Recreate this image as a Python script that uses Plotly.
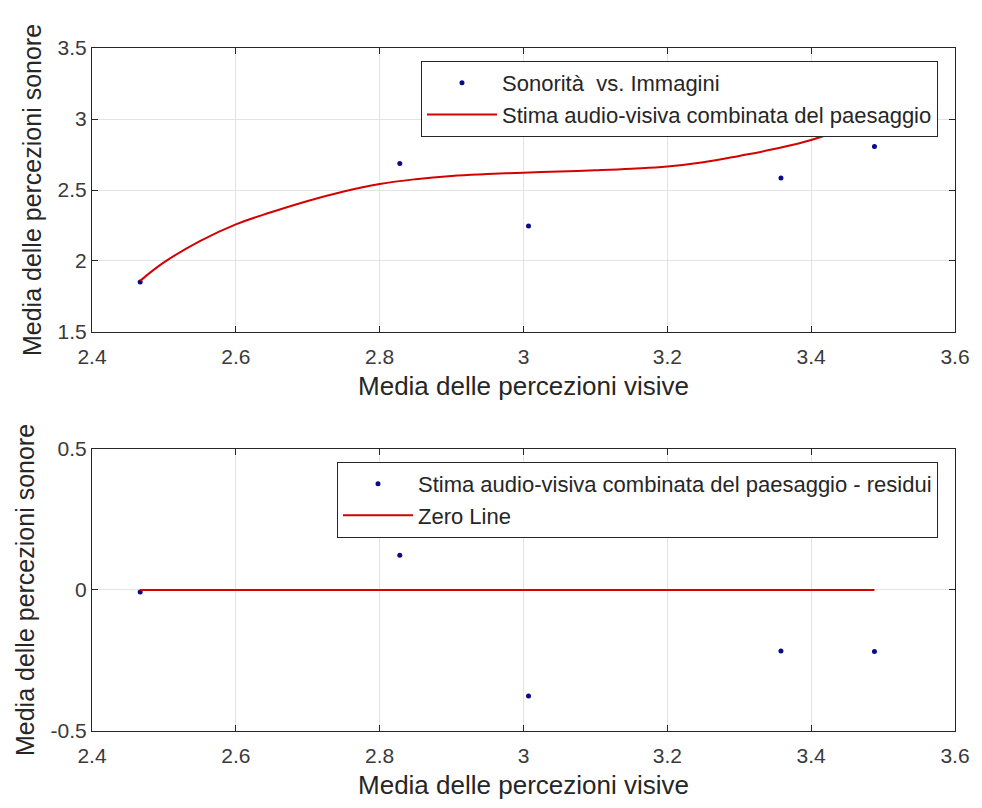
import plotly.graph_objects as go

# ---- data ----
visive = [2.467, 2.828, 3.007, 3.358, 3.488]          # Media delle percezioni visive
sonore = [1.852, 2.686, 2.246, 2.585, 2.806]          # Media delle percezioni sonore

fit_x = [2.467, 2.5, 2.55, 2.6, 2.65, 2.7, 2.75, 2.8, 2.85, 2.9, 2.95, 3.0,
         3.05, 3.1, 3.15, 3.2, 3.25, 3.3, 3.35, 3.4, 3.45, 3.488]
fit_y = [1.86, 1.99, 2.14, 2.258, 2.345, 2.423, 2.49, 2.542, 2.576, 2.599, 2.612, 2.622,
         2.63, 2.639, 2.65, 2.665, 2.695, 2.74, 2.79, 2.852, 2.94, 3.024]

residui = [-0.007, 0.123, -0.376, -0.216, -0.218]
zero_x = [2.467, 3.488]
zero_y = [0, 0]

x_ticks = [2.4, 2.6, 2.8, 3.0, 3.2, 3.4, 3.6]
x_labels = ["2.4", "2.6", "2.8", "3", "3.2", "3.4", "3.6"]
y1_ticks = [1.5, 2.0, 2.5, 3.0, 3.5]
y1_labels = ["1.5", "2", "2.5", "3", "3.5"]
y2_ticks = [-0.5, 0, 0.5]
y2_labels = ["-0.5", "0", "0.5"]

FONT = "Liberation Sans, Arial, Helvetica, sans-serif"
TXT = "#262626"
TICK = "#3a3a3a"
BLUE = "#0a0a8a"
RED = "#d40000"

fig = go.Figure()

fig.add_trace(go.Scatter(x=visive, y=sonore, mode="markers",
                         marker=dict(color=BLUE, size=5),
                         name="Sonorità  vs. Immagini",
                         xaxis="x", yaxis="y", legend="legend"))
fig.add_trace(go.Scatter(x=fit_x, y=fit_y, mode="lines",
                         line=dict(color=RED, width=2, shape="spline", smoothing=1.2),
                         name="Stima audio-visiva combinata del paesaggio",
                         xaxis="x", yaxis="y", legend="legend"))
fig.add_trace(go.Scatter(x=visive, y=residui, mode="markers",
                         marker=dict(color=BLUE, size=5),
                         name="Stima audio-visiva combinata del paesaggio - residui",
                         xaxis="x2", yaxis="y2", legend="legend2"))
fig.add_trace(go.Scatter(x=zero_x, y=zero_y, mode="lines",
                         line=dict(color=RED, width=2),
                         name="Zero Line",
                         xaxis="x2", yaxis="y2", legend="legend2"))

axis_common = dict(showline=True, linecolor=TXT, linewidth=1, mirror="ticks",
                   ticks="inside", ticklen=6, tickcolor=TXT, tickwidth=1,
                   showgrid=True, gridcolor="#e3e3e3", gridwidth=1,
                   zeroline=False,
                   tickfont=dict(family=FONT, size=21, color=TICK))

xtitle = dict(text="Media delle percezioni visive",
              font=dict(family=FONT, size=26, color=TXT), standoff=9)
ytitle = dict(text="Media delle percezioni sonore",
              font=dict(family=FONT, size=25, color=TXT), standoff=8)

legend_common = dict(bgcolor="white", bordercolor=TXT, borderwidth=1,
                     font=dict(family=FONT, size=22, color=TXT),
                     xanchor="right", yanchor="top", itemwidth=70,
                     traceorder="normal")

fig.update_layout(
    width=982, height=808,
    margin=dict(l=92, r=23, t=48, b=77),
    paper_bgcolor="white", plot_bgcolor="white",
    font=dict(family=FONT, color=TXT),
    xaxis=dict(domain=[0, 1], anchor="y", range=[2.4, 3.6], ticklabelstandoff=6,
               tickvals=x_ticks, ticktext=x_labels, title=xtitle, **axis_common),
    yaxis=dict(domain=[0.5842, 1], anchor="x", range=[1.5, 3.5],
               tickvals=y1_ticks, ticktext=y1_labels, title=ytitle, **axis_common),
    xaxis2=dict(domain=[0, 1], anchor="y2", range=[2.4, 3.6], ticklabelstandoff=6,
                tickvals=x_ticks, ticktext=x_labels, title=xtitle, **axis_common),
    yaxis2=dict(domain=[0, 0.4129], anchor="x2", range=[-0.5, 0.5],
                tickvals=y2_ticks, ticktext=y2_labels, title=ytitle, **axis_common),
    legend=dict(x=0.9803, y=0.981, **legend_common),
    legend2=dict(x=0.9803, y=0.3939, **legend_common),
)

fig.write_html("out.html")
